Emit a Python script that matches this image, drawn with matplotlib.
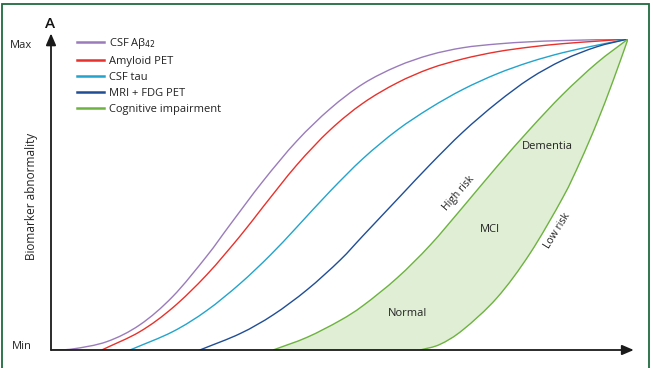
import numpy as np
import matplotlib.pyplot as plt
from matplotlib.patches import Rectangle, PathPatch
from matplotlib.path import Path

plt.rcParams["font.family"] = ["Open Sans", "DejaVu Sans"]

# curves (x: disease stage 0-100, y: abnormality 0-100)
csf_ab_x = [0.3, 3.8, 9.7, 15.4, 21.1, 27.0, 31.0, 36.7, 42.6, 48.4, 54.1, 60.0, 65.7, 71.4, 77.3, 83.0, 88.7, 100]
csf_ab_y = [0, 0.35, 2.7, 8.1, 17.2, 30.2, 40.2, 54.2, 67.2, 77.6, 85.6, 91.2, 94.9, 97.2, 98.4, 99.1, 99.5, 100]

amyloid_x = [8.8, 15.4, 21.1, 27.0, 32.8, 36.7, 42.6, 48.4, 54.1, 60.0, 65.7, 71.4, 77.3, 83.0, 88.7, 94.6, 100]
amyloid_y = [0, 5.9, 13.6, 24.2, 36.7, 45.9, 59.5, 70.8, 79.4, 85.9, 90.5, 93.6, 95.9, 97.4, 98.5, 99.3, 100]

tau_x = [13.7, 21.1, 27.0, 32.8, 38.0, 42.6, 48.4, 54.1, 60.0, 65.7, 71.4, 77.3, 83.0, 88.7, 94.6, 100]
tau_y = [0, 5.9, 12.7, 21.4, 30.5, 39.5, 51.1, 61.6, 70.7, 77.8, 83.8, 88.8, 92.6, 95.6, 98.0, 100]

mri_x = [25.8, 32.8, 38.5, 44.4, 50.1, 54.1, 60.5, 65.7, 71.4, 77.3, 83.0, 88.7, 94.6, 100]
mri_y = [0, 5.3, 11.3, 19.4, 28.9, 36.8, 49.4, 59.6, 70.1, 79.5, 87.3, 93.2, 97.5, 100]

high_risk_x = [38.5, 44.4, 50.1, 54.1, 60.0, 65.7, 71.4, 77.3, 83.0, 88.7, 94.6, 100]
high_risk_y = [0, 4.1, 9.5, 14.3, 23.2, 33.7, 46.0, 59.0, 71.0, 82.2, 92.3, 100]

low_risk_x = [64.0, 67.4, 71.4, 77.3, 83.0, 88.7, 91.7, 94.6, 97.4, 100]
low_risk_y = [0, 1.8, 6.5, 16.8, 31.0, 49.0, 60.5, 73.0, 86.5, 100]

labels = ["CSF A\u03b2$_{42}$", "Amyloid PET", "CSF tau", "MRI + FDG PET", "Cognitive impairment"]
colors = ["#9a7bbb", "#e8312b", "#22a4cc", "#1f4e96", "#6db33f"]


def smooth_path(xs, ys):
    # bezier path through the read points (catmull-rom handles)
    p = np.column_stack([xs, ys]).astype(float)
    ext = np.vstack([2 * p[0] - p[1], p, 2 * p[-1] - p[-2]])
    verts = [p[0]]
    codes = [Path.MOVETO]
    for i in range(len(p) - 1):
        c1 = ext[i + 1] + (ext[i + 2] - ext[i]) / 6
        c2 = ext[i + 2] - (ext[i + 3] - ext[i + 1]) / 6
        verts += [c1, c2, p[i + 1]]
        codes += [Path.CURVE4] * 3
    return verts, codes


W, H = 653, 368
fig = plt.figure(figsize=(W / 100, H / 100), dpi=100)
ax = fig.add_axes([51 / W, 18 / H, 577 / W, 311 / H])
ax.set_xlim(0, 100)
ax.set_ylim(0, 100)
ax.axis("off")

# shaded cognitive band
v1, c1 = smooth_path(high_risk_x, high_risk_y)
v2, c2 = smooth_path(low_risk_x[::-1], low_risk_y[::-1])
c2[0] = Path.LINETO
band = Path(v1 + v2 + [v1[0]], c1 + c2 + [Path.CLOSEPOLY])
ax.add_patch(PathPatch(band, facecolor="#dfeed4", lw=0, zorder=1))

lw = 1.0
series = [(csf_ab_x, csf_ab_y, 0), (amyloid_x, amyloid_y, 1), (tau_x, tau_y, 2),
          (mri_x, mri_y, 3), (high_risk_x, high_risk_y, 4), (low_risk_x, low_risk_y, 4)]
for xs, ys, k in series:
    v, c = smooth_path(xs, ys)
    ax.add_patch(PathPatch(Path(v, c), facecolor="none", edgecolor=colors[k], lw=lw, zorder=3))

for k in range(5):
    ax.plot([], [], color=colors[k], lw=1.8, label=labels[k])

# arrow axes
arrow = dict(arrowstyle="-|>,head_length=0.7,head_width=0.3", color="#1a1a1a", lw=1.3, shrinkA=0, shrinkB=0)
ax.annotate("", xy=(0, 101.8), xytext=(0, 0), arrowprops=arrow, annotation_clip=False)
ax.annotate("", xy=(101, 0), xytext=(0, 0), arrowprops=arrow, annotation_clip=False)

tc = "#222222"
ax.text(-3.3, 98, "Max", ha="right", va="center", fontsize=8, color=tc, clip_on=False)
ax.text(-3.3, 1, "Min", ha="right", va="center", fontsize=8, color=tc, clip_on=False)
ax.text(-3.3, 49.5, "Biomarker abnormality", rotation=90, ha="center", va="center", fontsize=8.5, color=tc, clip_on=False)

ax.text(61.7, 11.6, "Normal", ha="center", va="center", fontsize=8, color=tc)
ax.text(76.1, 38.6, "MCI", ha="center", va="center", fontsize=8, color=tc)
ax.text(86.0, 65.3, "Dementia", ha="center", va="center", fontsize=8, color=tc)
ax.text(70.7, 50.2, "High risk", rotation=49, ha="center", va="center", fontsize=7.5, color=tc)
ax.text(87.7, 38.3, "Low risk", rotation=58, ha="center", va="center", fontsize=7.5, color=tc)

fig.text(50 / W, 1 - 24 / H, "A", ha="center", va="center", fontsize=11, fontweight="semibold", color="#111111")
fig.text(47 / W, 1 - 375 / H, "B", ha="center", va="center", fontsize=11, fontweight="semibold", color="#111111")

ax.legend(loc="upper left", bbox_to_anchor=(77 / W, 1 - 36 / H), bbox_transform=fig.transFigure,
          frameon=False, fontsize=8, handlelength=2.4, handletextpad=0.5, labelspacing=0.45,
          borderpad=0, borderaxespad=0, labelcolor=tc)

# green frame
fig.patches.append(Rectangle((2 / W, -0.05), 647 / W, 1.05 - 4 / H, transform=fig.transFigure,
                             fill=False, edgecolor="#1f6b3f", lw=1.3))

plt.savefig("out.png", dpi=100)
